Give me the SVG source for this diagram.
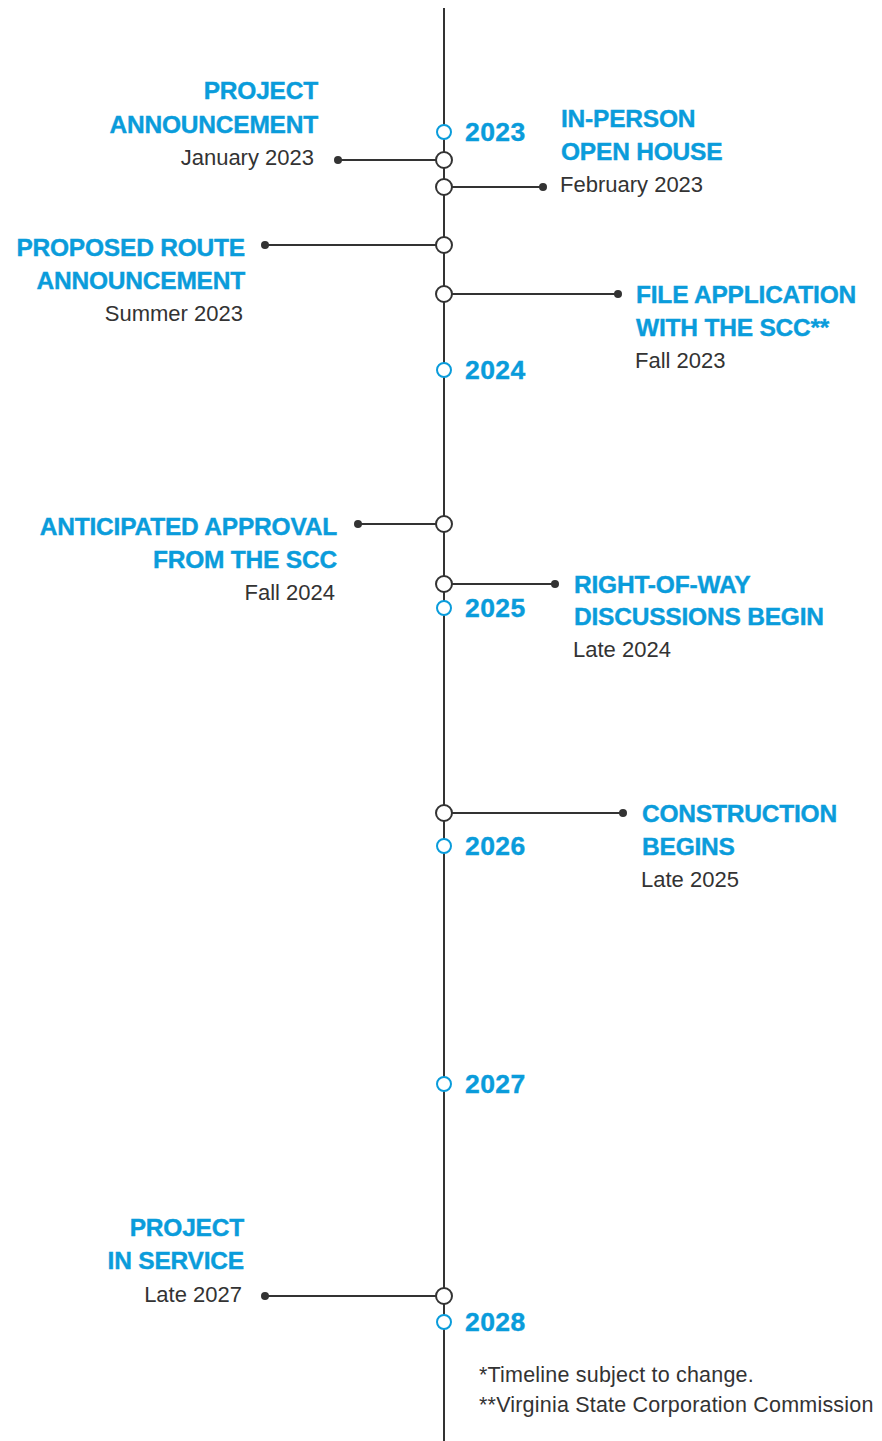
<svg xmlns="http://www.w3.org/2000/svg" width="882" height="1441" viewBox="0 0 882 1441">
<style>
.t{font-family:"Liberation Sans",Arial,sans-serif;font-weight:bold;font-size:24.5px;fill:#0a9cdb;letter-spacing:-0.2px;stroke:#0a9cdb;stroke-width:0.4px}
.s{font-family:"Liberation Sans",Arial,sans-serif;font-size:22px;fill:#333}
.y{font-family:"Liberation Sans",Arial,sans-serif;font-weight:bold;font-size:26.5px;fill:#0a9cdb;letter-spacing:0.4px;stroke:#0a9cdb;stroke-width:0.4px}
.f{font-family:"Liberation Sans",Arial,sans-serif;font-size:21.5px;fill:#333;letter-spacing:0.2px}
.r{text-anchor:end}
.ln{stroke:#333;stroke-width:2;fill:none}
.ev{fill:#fff;stroke:#333;stroke-width:2}
.yr{fill:#fff;stroke:#0a9cdb;stroke-width:2}
.dot{fill:#333}
</style>
<g id="connectors">
<line class="ln" x1="444" y1="8" x2="444" y2="1441"/>
<line class="ln" x1="338" y1="160" x2="444" y2="160"/>
<line class="ln" x1="444" y1="187" x2="543" y2="187"/>
<line class="ln" x1="265" y1="245" x2="444" y2="245"/>
<line class="ln" x1="444" y1="294" x2="618" y2="294"/>
<line class="ln" x1="358" y1="524" x2="444" y2="524"/>
<line class="ln" x1="444" y1="584" x2="555" y2="584"/>
<line class="ln" x1="444" y1="813" x2="623" y2="813"/>
<line class="ln" x1="265" y1="1296" x2="444" y2="1296"/>
<circle class="dot" cx="338" cy="160" r="4"/>
<circle class="dot" cx="543" cy="187" r="4"/>
<circle class="dot" cx="265" cy="245" r="4"/>
<circle class="dot" cx="618" cy="294" r="4"/>
<circle class="dot" cx="358" cy="524" r="4"/>
<circle class="dot" cx="555" cy="584" r="4"/>
<circle class="dot" cx="623" cy="813" r="4"/>
<circle class="dot" cx="265" cy="1296" r="4"/>
</g>
<g id="year-2023"><circle class="yr" cx="444" cy="132" r="7"/><text class="y" x="465" y="141">2023</text></g>
<g id="year-2024"><circle class="yr" cx="444" cy="370" r="7"/><text class="y" x="465" y="379">2024</text></g>
<g id="year-2025"><circle class="yr" cx="444" cy="608" r="7"/><text class="y" x="465" y="617">2025</text></g>
<g id="year-2026"><circle class="yr" cx="444" cy="846" r="7"/><text class="y" x="465" y="855">2026</text></g>
<g id="year-2027"><circle class="yr" cx="444" cy="1084" r="7"/><text class="y" x="465" y="1093">2027</text></g>
<g id="year-2028"><circle class="yr" cx="444" cy="1322" r="7"/><text class="y" x="465" y="1331">2028</text></g>
<g id="project-announcement"><circle class="ev" cx="444" cy="160" r="8"/>
<text class="t r" x="318" y="99">PROJECT</text><text class="t r" x="318" y="133">ANNOUNCEMENT</text><text class="s r" x="314" y="165">January 2023</text></g>
<g id="open-house"><circle class="ev" cx="444" cy="187" r="8"/>
<text class="t" x="561" y="127">IN-PERSON</text><text class="t" x="561" y="160">OPEN HOUSE</text><text class="s" x="560" y="192">February 2023</text></g>
<g id="proposed-route"><circle class="ev" cx="444" cy="245" r="8"/>
<text class="t r" x="245" y="256">PROPOSED ROUTE</text><text class="t r" x="245" y="289">ANNOUNCEMENT</text><text class="s r" x="243" y="321">Summer 2023</text></g>
<g id="file-application"><circle class="ev" cx="444" cy="294" r="8"/>
<text class="t" x="636" y="303">FILE APPLICATION</text><text class="t" x="636" y="336">WITH THE SCC**</text><text class="s" x="635" y="368">Fall 2023</text></g>
<g id="anticipated-approval"><circle class="ev" cx="444" cy="524" r="8"/>
<text class="t r" x="337" y="535">ANTICIPATED APPROVAL</text><text class="t r" x="337" y="568">FROM THE SCC</text><text class="s r" x="335" y="600">Fall 2024</text></g>
<g id="right-of-way"><circle class="ev" cx="444" cy="584" r="8"/>
<text class="t" x="574" y="593">RIGHT-OF-WAY</text><text class="t" x="574" y="625">DISCUSSIONS BEGIN</text><text class="s" x="573" y="657">Late 2024</text></g>
<g id="construction"><circle class="ev" cx="444" cy="813" r="8"/>
<text class="t" x="642" y="822">CONSTRUCTION</text><text class="t" x="642" y="855">BEGINS</text><text class="s" x="641" y="887">Late 2025</text></g>
<g id="in-service"><circle class="ev" cx="444" cy="1296" r="8"/>
<text class="t r" x="244" y="1236">PROJECT</text><text class="t r" x="244" y="1269">IN SERVICE</text><text class="s r" x="242" y="1302">Late 2027</text></g>
<g id="footnotes">
<text class="f" x="479" y="1382">*Timeline subject to change.</text>
<text class="f" x="479" y="1412">**Virginia State Corporation Commission</text>
</g>
</svg>
